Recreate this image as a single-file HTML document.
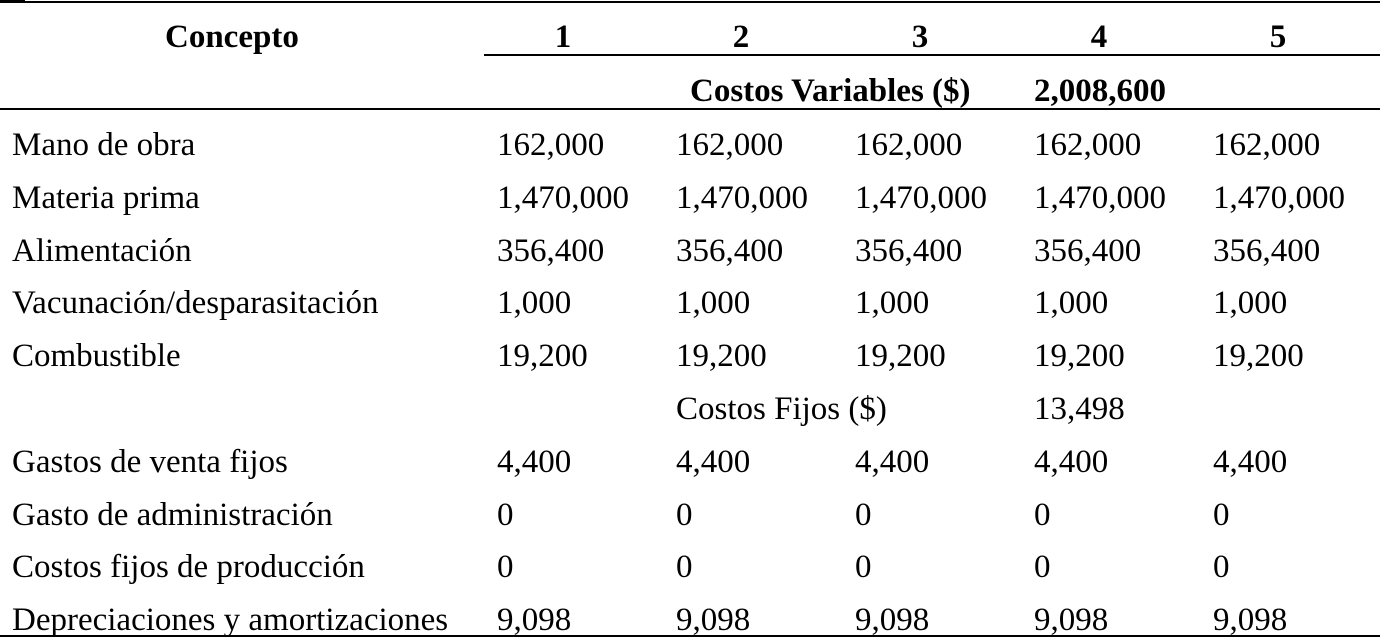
<!DOCTYPE html>
<html><head><meta charset="utf-8"><style>
body{margin:0;width:1380px;height:638px;background:#fff;position:relative;overflow:hidden;font-family:"Liberation Serif","Times New Roman",serif;color:#000}
.t{position:absolute;font-size:33px;line-height:33px;white-space:nowrap}
.b{font-weight:bold}
.l{position:absolute;background:#000}
.c{transform:translateX(-50%)}
</style></head><body>
<div class="l" style="left:0;top:0;width:25px;height:3px"></div>
<div class="l" style="left:0;top:1px;width:1380px;height:2px"></div>
<div class="l" style="left:484px;top:54px;width:896px;height:2px"></div>
<div class="l" style="left:0;top:108px;width:1380px;height:2px"></div>
<div class="l" style="left:0;top:635px;width:1380px;height:2px"></div>

<div class="t b" style="left:165px;top:21px">Concepto</div>
<div class="t b c" style="left:563px;top:21px">1</div>
<div class="t b c" style="left:741px;top:21px">2</div>
<div class="t b c" style="left:920px;top:21px">3</div>
<div class="t b c" style="left:1099px;top:21px">4</div>
<div class="t b c" style="left:1278px;top:21px">5</div>
<div class="t b" style="left:690px;top:75px">Costos Variables ($)</div>
<div class="t b" style="left:1034px;top:75px">2,008,600</div>

<div id="rows"></div>
<script>
var rows=[
["Mano de obra","162,000"],
["Materia prima","1,470,000"],
["Alimentación","356,400"],
["Vacunación/desparasitación","1,000"],
["Combustible","19,200"],
null,
["Gastos de venta fijos","4,400"],
["Gasto de administración","0"],
["Costos fijos de producción","0"],
["Depreciaciones y amortizaciones","9,098"]];
var xs=[497,676,855,1034,1213],h="";
rows.forEach(function(r,i){var top=145+i*52.8-16;
if(!r){h+='<div class="t" style="left:676px;top:'+top+'px">Costos Fijos ($)</div><div class="t" style="left:1034px;top:'+top+'px">13,498</div>';return;}
h+='<div class="t" style="left:12px;top:'+top+'px">'+r[0]+'</div>';
xs.forEach(function(x){h+='<div class="t" style="left:'+x+'px;top:'+top+'px">'+r[1]+'</div>';});});
document.getElementById("rows").innerHTML=h;
</script>
</body></html>
